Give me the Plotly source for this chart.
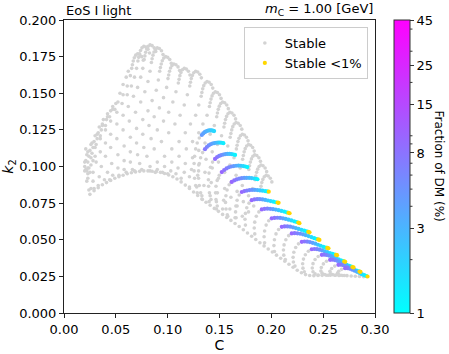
import numpy as np
import plotly.graph_objects as go

# ---------------- data ----------------
# gray "Stable" configurations: heads of the upper hooks (C, k2)
hook_heads = [
    (0.0765,0.1725),(0.075,0.175),(0.073,0.1765),(0.071,0.177),(0.0692,0.176),(0.0678,0.1742),(0.0668,0.172),(0.066,0.1695),(0.0653,0.167),
    (0.0825,0.1775),(0.081,0.180),(0.079,0.1815),(0.077,0.182),(0.0752,0.181),(0.0738,0.1792),(0.0728,0.177),(0.072,0.1745),(0.0713,0.172),
    (0.0885,0.1785),(0.087,0.181),(0.085,0.1825),(0.083,0.183),(0.0812,0.182),(0.0798,0.1802),(0.0788,0.178),(0.078,0.1755),(0.0773,0.173),
    (0.0955,0.1765),(0.094,0.179),(0.092,0.1805),(0.090,0.181),(0.0882,0.180),(0.0868,0.1782),(0.0858,0.176),(0.085,0.1735),(0.0843,0.171),
    (0.1035,0.1705),(0.102,0.173),(0.100,0.1745),(0.098,0.175),(0.0962,0.174),(0.0948,0.1722),(0.0938,0.170),(0.093,0.1675),(0.0923,0.165),
    (0.1115,0.1655),(0.110,0.168),(0.108,0.1695),(0.106,0.170),(0.1042,0.169),(0.1028,0.1672),(0.1018,0.165),(0.101,0.1625),(0.1003,0.160),
    (0.1215,0.1625),(0.120,0.165),(0.118,0.1665),(0.116,0.167),(0.1142,0.166),(0.1128,0.1642),(0.1118,0.162),(0.111,0.1595),(0.1103,0.157),
    (0.1325,0.1605),(0.131,0.163),(0.129,0.1645),(0.127,0.165),(0.1252,0.164),(0.1238,0.1622),(0.1228,0.160),(0.122,0.1575),(0.1213,0.155),
    (0.1435,0.1535),(0.142,0.156),(0.140,0.1575),(0.138,0.158),(0.1362,0.157),(0.1348,0.1552),(0.1338,0.153),(0.133,0.1505),(0.1323,0.148),
    (0.1515,0.1465),(0.150,0.149),(0.148,0.1505),(0.146,0.151),(0.1442,0.150),(0.1428,0.1482),(0.1418,0.146),(0.141,0.1435),(0.1403,0.141),
    (0.1585,0.1395),(0.157,0.142),(0.155,0.1435),(0.153,0.144),(0.1512,0.143),(0.1498,0.1412),(0.1488,0.139),(0.148,0.1365),(0.1473,0.134),
    (0.1655,0.1325),(0.164,0.135),(0.162,0.1365),(0.160,0.137),(0.1582,0.136),(0.1568,0.1342),(0.1558,0.132),(0.155,0.1295),(0.1543,0.127),
    (0.1715,0.1255),(0.170,0.128),(0.168,0.1295),(0.166,0.130),(0.1642,0.129),(0.1628,0.1272),(0.1618,0.125),(0.161,0.1225),(0.1603,0.120),
    (0.1775,0.1175),(0.176,0.120),(0.174,0.1215),(0.172,0.122),(0.1702,0.121),(0.1688,0.1192),(0.1678,0.117),(0.167,0.1145),(0.1663,0.112),
    (0.1835,0.1105),(0.182,0.113),(0.180,0.1145),(0.178,0.115),(0.1762,0.114),(0.1748,0.1122),(0.1738,0.110),(0.173,0.1075),(0.1723,0.105),
    (0.1895,0.1035),(0.188,0.106),(0.186,0.1075),(0.184,0.108),(0.1822,0.107),(0.1808,0.1052),(0.1798,0.103),(0.179,0.1005),(0.1783,0.098),
    (0.1955,0.0965),(0.194,0.099),(0.192,0.1005),(0.190,0.101),(0.1882,0.100),(0.1868,0.0982),(0.1858,0.096),(0.185,0.0935),(0.1843,0.091),
    (0.2005,0.0895),(0.199,0.092),(0.197,0.0935),(0.195,0.094),(0.1932,0.093),(0.1918,0.0912),(0.1908,0.089),(0.190,0.0865),(0.1893,0.084),
]

# gray tails of the upper hooks, running down-left
hook_tails = [
    (0.064,0.162),(0.061,0.155),(0.057,0.149),(0.052,0.144),(0.047,0.139),(0.042,0.134),(0.037,0.128),(0.032,0.122),(0.027,0.116),(0.023,0.110),(0.020,0.103),(0.020,0.097),(0.022,0.090),(0.024,0.084),
    (0.070,0.167),(0.068,0.161),(0.065,0.155),(0.061,0.149),(0.056,0.143),(0.051,0.137),(0.045,0.131),(0.040,0.125),(0.035,0.119),(0.030,0.113),(0.026,0.106),(0.023,0.099),(0.023,0.092),(0.026,0.085),
    (0.076,0.167),(0.074,0.161),(0.071,0.154),(0.067,0.148),(0.062,0.141),(0.057,0.135),(0.051,0.129),(0.045,0.122),(0.040,0.116),(0.035,0.110),(0.031,0.103),(0.028,0.096),(0.028,0.090),(0.029,0.085),
    (0.083,0.165),(0.081,0.158),(0.078,0.151),(0.074,0.144),(0.069,0.137),(0.063,0.131),(0.057,0.125),(0.051,0.119),(0.045,0.113),(0.040,0.107),(0.036,0.100),(0.034,0.093),(0.033,0.087),
    (0.091,0.159),(0.089,0.152),(0.085,0.145),(0.081,0.138),(0.076,0.132),(0.070,0.126),(0.064,0.120),(0.058,0.114),(0.052,0.108),(0.046,0.102),(0.042,0.096),(0.039,0.091),
    (0.099,0.154),(0.096,0.147),(0.092,0.140),(0.087,0.134),(0.082,0.128),(0.076,0.122),(0.070,0.116),(0.064,0.110),(0.058,0.104),(0.052,0.099),(0.047,0.094),(0.044,0.091),
    (0.108,0.151),(0.105,0.144),(0.101,0.137),(0.096,0.131),(0.090,0.125),(0.084,0.119),(0.077,0.113),(0.071,0.108),(0.064,0.103),(0.058,0.098),(0.053,0.094),
    (0.119,0.149),(0.116,0.142),(0.112,0.135),(0.107,0.129),(0.101,0.123),(0.094,0.117),(0.087,0.112),(0.080,0.107),(0.073,0.102),(0.066,0.098),(0.060,0.096),
    (0.130,0.142),(0.127,0.135),(0.122,0.129),(0.117,0.123),(0.111,0.117),(0.104,0.112),(0.097,0.107),(0.090,0.103),(0.083,0.100),(0.075,0.098),(0.068,0.097),
    (0.138,0.135),(0.134,0.129),(0.130,0.123),(0.124,0.117),(0.118,0.112),(0.111,0.107),(0.104,0.103),(0.097,0.100),(0.090,0.098),(0.083,0.097),
    (0.145,0.128),(0.141,0.122),(0.136,0.116),(0.130,0.111),(0.124,0.106),(0.117,0.102),(0.110,0.099),(0.103,0.097),(0.095,0.096),(0.088,0.096),
    (0.152,0.121),(0.148,0.115),(0.143,0.110),(0.137,0.105),(0.130,0.101),(0.123,0.098),(0.116,0.096),(0.108,0.095),(0.100,0.095),
    (0.158,0.114),(0.154,0.108),(0.149,0.103),(0.143,0.099),(0.136,0.096),(0.129,0.094),(0.121,0.093),(0.113,0.092),
    (0.164,0.106),(0.160,0.101),(0.155,0.096),(0.149,0.092),(0.142,0.089),(0.135,0.087),(0.128,0.086),(0.121,0.086),
    (0.170,0.099),(0.166,0.094),(0.161,0.089),(0.155,0.085),(0.148,0.082),(0.141,0.080),(0.133,0.080),
    (0.176,0.092),(0.172,0.087),(0.167,0.083),(0.161,0.079),(0.154,0.077),(0.147,0.076),(0.140,0.076),
    (0.182,0.085),(0.178,0.080),(0.173,0.076),(0.167,0.073),(0.160,0.071),(0.153,0.071),(0.147,0.071),
    (0.187,0.078),(0.183,0.073),(0.178,0.069),(0.172,0.066),(0.165,0.065),(0.158,0.066),
]

# gray tails below the coloured arcs
arc_tails = [
    (0.1305,0.1195),(0.1285,0.116),(0.127,0.112),(0.126,0.107),(0.1255,0.102),(0.1255,0.097),(0.126,0.092),(0.127,0.087),(0.1285,0.082),
    (0.1337,0.1095),(0.1318,0.106),(0.1305,0.102),(0.1298,0.097),(0.1298,0.092),(0.1305,0.087),(0.1318,0.082),(0.1335,0.0775),
    (0.1433,0.103),(0.1413,0.0995),(0.1399,0.0955),(0.1393,0.091),(0.1395,0.0865),(0.1403,0.082),(0.1418,0.0775),
    (0.1498,0.094),(0.1478,0.0905),(0.1466,0.0865),(0.1462,0.082),(0.1466,0.0775),(0.1478,0.073),
    (0.1593,0.0875),(0.1573,0.084),(0.1562,0.080),(0.1558,0.0755),(0.1563,0.071),(0.1575,0.067),
    (0.169,0.0805),(0.167,0.077),(0.1658,0.073),(0.1655,0.069),(0.166,0.065),
    (0.1785,0.075),(0.1763,0.0718),(0.175,0.068),(0.1746,0.064),(0.175,0.060),
    (0.188,0.069),(0.1855,0.066),(0.184,0.062),(0.1835,0.058),(0.184,0.054),
    (0.1975,0.063),(0.195,0.060),(0.1935,0.056),(0.193,0.052),(0.1935,0.048),
    (0.207,0.057),(0.2045,0.054),(0.203,0.050),(0.2025,0.046),(0.203,0.042),
    (0.2167,0.0528),(0.214,0.050),(0.2123,0.0465),(0.2117,0.043),(0.212,0.0395),(0.2135,0.0365),
    (0.2262,0.0472),(0.2235,0.0447),(0.2217,0.0415),(0.221,0.038),(0.2213,0.0348),(0.2228,0.032),
    (0.2357,0.0422),(0.2328,0.0398),(0.231,0.0368),(0.2302,0.0336),(0.2305,0.0306),(0.2318,0.0282),
    (0.2452,0.0386),(0.2422,0.0365),(0.2402,0.0337),(0.2395,0.0307),(0.2402,0.0282),(0.2422,0.0267),(0.2452,0.0259),
    (0.2532,0.0353),(0.2502,0.0335),(0.2482,0.031),(0.2478,0.0287),(0.249,0.0272),(0.2515,0.0263),(0.2548,0.0258),
    (0.2612,0.032),(0.2582,0.0304),(0.2565,0.0285),(0.257,0.0270),(0.259,0.0262),(0.262,0.0258),(0.2655,0.0256),
    (0.2678,0.0298),(0.265,0.0285),(0.2638,0.0272),(0.2648,0.0263),(0.2672,0.0258),(0.2705,0.0256),
]

# lower edge of the stable region and its flat bottom
lower_edge = [
    (0.025,0.081),(0.029,0.0835),(0.033,0.0855),(0.037,0.0875),(0.041,0.089),(0.045,0.0905),(0.049,0.092),(0.053,0.093),
    (0.057,0.094),(0.061,0.095),(0.065,0.0957),(0.069,0.0963),(0.073,0.0967),(0.077,0.097),(0.081,0.097),(0.085,0.0968),
    (0.089,0.0965),(0.093,0.096),(0.097,0.0952),(0.101,0.0942),(0.105,0.093),(0.109,0.0915),(0.113,0.0895),(0.117,0.0873),
    (0.121,0.085),(0.125,0.0826),(0.129,0.0802),(0.133,0.0778),(0.137,0.0756),(0.141,0.0735),(0.145,0.0714),(0.149,0.0694),
    (0.153,0.0673),(0.157,0.0652),(0.161,0.0632),(0.165,0.0611),(0.169,0.059),(0.173,0.0568),(0.177,0.0546),(0.181,0.0524),
    (0.185,0.0502),(0.189,0.048),(0.193,0.0458),(0.197,0.0437),(0.201,0.0416),(0.205,0.0395),(0.209,0.0374),(0.213,0.0353),
    (0.217,0.0333),(0.221,0.0312),(0.225,0.0292),(0.229,0.0275),(0.233,0.0262),(0.237,0.0256),(0.241,0.0255),(0.245,0.0256),
    (0.249,0.0257),(0.253,0.0258),(0.257,0.0258),(0.261,0.0258),(0.265,0.0257),(0.269,0.0256),(0.273,0.0255),(0.277,0.0253),
    (0.281,0.0251),(0.285,0.0249),(0.289,0.0247),
]

# dense band at low compactness
core_band = [
    (0.020,0.100),(0.021,0.104),(0.022,0.108),(0.021,0.112),(0.023,0.103),(0.024,0.107),(0.025,0.111),(0.026,0.115),
    (0.027,0.109),(0.028,0.113),(0.029,0.117),(0.030,0.121),(0.031,0.115),(0.032,0.119),(0.033,0.123),(0.034,0.127),
    (0.035,0.121),(0.036,0.125),(0.037,0.129),(0.038,0.132),(0.040,0.128),(0.041,0.132),(0.042,0.136),(0.044,0.134),
    (0.045,0.138),(0.047,0.141),(0.049,0.139),(0.050,0.143),(0.022,0.097),(0.024,0.099),(0.026,0.101),(0.028,0.104),
    (0.030,0.107),(0.023,0.095),(0.025,0.096),(0.021,0.098),(0.054,0.150),(0.057,0.156),(0.060,0.161),(0.062,0.165),
]

# coloured arcs: (C, k2, fraction of DM in %)
dm_arcs = [
    (0.1329,0.1215,4.5),(0.1343,0.1226,4.1),(0.1357,0.1234,3.7),(0.1371,0.124,3.4),(0.1385,0.1244,3.1),(0.1399,0.1246,2.8),(0.1413,0.1247,2.5),(0.1427,0.1246,2.2),(0.1440,0.1244,2.0),(0.1448,0.1242,1.8),
    (0.136,0.1118,7.5),(0.1378,0.1133,6.5),(0.1396,0.1144,5.6),(0.1414,0.1152,4.8),(0.1432,0.1157,4.1),(0.145,0.1160,3.5),(0.1468,0.1162,3.0),(0.1486,0.1163,2.5),(0.1504,0.1163,2.0),(0.152,0.1162,1.6),(0.1537,0.1159,1.3),
    (0.1457,0.1052,9.0),(0.1477,0.1064,7.8),(0.1497,0.1072,6.7),(0.1517,0.1078,5.7),(0.1537,0.1082,4.8),(0.1557,0.1085,4.0),(0.1577,0.1086,3.3),(0.1597,0.1086,2.6),(0.1617,0.1085,2.0),(0.1635,0.1082,1.5),(0.165,0.1079,1.2),
    (0.1522,0.0962,9.5),(0.1545,0.0976,8.3),(0.1568,0.0987,7.2),(0.1591,0.0995,6.2),(0.1614,0.1000,5.3),(0.1637,0.1003,4.5),(0.166,0.1005,3.7),(0.1683,0.1006,3.0),(0.1706,0.1005,2.4),(0.1729,0.1003,1.9),(0.175,0.1000,1.5),(0.1769,0.0996,1.15),
    (0.1618,0.0895,9.5),(0.1642,0.0905,8.3),(0.1666,0.0912,7.2),(0.169,0.0917,6.2),(0.1714,0.0920,5.3),(0.1738,0.0922,4.5),(0.1762,0.0923,3.7),(0.1786,0.0922,3.0),(0.181,0.0921,2.4),(0.1834,0.0918,1.9),(0.1852,0.0916,1.5),(0.1866,0.0913,1.15),
    (0.1715,0.0826,9.5),(0.174,0.0832,8.2),(0.1765,0.0836,7.0),(0.179,0.0839,5.9),(0.1815,0.0840,4.9),(0.184,0.0840,4.0),(0.1865,0.0839,3.2),(0.189,0.0837,2.5),(0.1915,0.0835,1.9),(0.194,0.0832,1.4),(0.196,0.0830,1.1),
    (0.1811,0.0770,9.5),(0.1837,0.0775,8.0),(0.1863,0.0777,6.6),(0.1889,0.0777,5.3),(0.1915,0.0775,4.2),(0.1941,0.0772,3.2),(0.1967,0.0768,2.4),(0.1993,0.0764,1.8),(0.2019,0.0760,1.35),(0.2043,0.0756,1.05),
    (0.1908,0.0707,9.5),(0.1935,0.0711,8.0),(0.1962,0.0712,6.6),(0.1989,0.0711,5.3),(0.2016,0.0709,4.2),(0.2043,0.0706,3.2),(0.207,0.0702,2.4),(0.2097,0.0697,1.8),(0.2124,0.0692,1.35),(0.2148,0.0687,1.05),
    (0.2004,0.0646,9.5),(0.2031,0.0649,8.0),(0.2058,0.0650,6.6),(0.2085,0.0649,5.3),(0.2112,0.0646,4.2),(0.2139,0.0642,3.2),(0.2166,0.0637,2.4),(0.2193,0.0632,1.8),(0.222,0.0626,1.35),(0.2243,0.0621,1.05),
    (0.2101,0.0588,9.5),(0.2128,0.0591,8.0),(0.2155,0.0591,6.6),(0.2182,0.0589,5.3),(0.2209,0.0585,4.2),(0.2236,0.0580,3.2),(0.2263,0.0574,2.4),(0.229,0.0568,1.8),(0.2317,0.0562,1.35),(0.234,0.0557,1.05),
    (0.2197,0.0543,9.5),(0.2224,0.0545,8.0),(0.2251,0.0544,6.6),(0.2278,0.0541,5.3),(0.2305,0.0537,4.2),(0.2332,0.0531,3.2),(0.2359,0.0525,2.4),(0.2386,0.0518,1.8),(0.2413,0.0511,1.35),(0.2437,0.0505,1.05),
    (0.2294,0.0486,9.5),(0.232,0.0488,8.0),(0.2346,0.0487,6.6),(0.2372,0.0484,5.3),(0.2398,0.0479,4.2),(0.2424,0.0473,3.2),(0.245,0.0466,2.4),(0.2476,0.0459,1.8),(0.2502,0.0452,1.35),(0.2526,0.0446,1.05),
    (0.239,0.0435,9.5),(0.2415,0.0437,8.0),(0.244,0.0436,6.6),(0.2465,0.0432,5.3),(0.249,0.0427,4.2),(0.2515,0.0421,3.2),(0.254,0.0415,2.4),(0.2565,0.0409,1.8),(0.259,0.0403,1.35),(0.2612,0.0399,1.05),
    (0.2487,0.0397,9.5),(0.251,0.0398,8.0),(0.2533,0.0396,6.6),(0.2556,0.0392,5.3),(0.2579,0.0386,4.2),(0.2602,0.0380,3.2),(0.2625,0.0373,2.4),(0.2648,0.0366,1.8),(0.2671,0.0359,1.35),(0.2692,0.0354,1.05),
    (0.2567,0.0363,9.5),(0.259,0.0364,8.0),(0.2613,0.0361,6.6),(0.2636,0.0356,5.3),(0.2659,0.0350,4.2),(0.2682,0.0343,3.2),(0.2705,0.0336,2.4),(0.2728,0.0329,1.8),(0.2751,0.0322,1.35),(0.2772,0.0316,1.05),
    (0.2647,0.0329,9.5),(0.2669,0.0330,8.0),(0.2691,0.0327,6.6),(0.2713,0.0322,5.3),(0.2735,0.0316,4.2),(0.2757,0.0309,3.2),(0.2779,0.0302,2.4),(0.2801,0.0295,1.8),(0.2823,0.0289,1.35),(0.2843,0.0285,1.05),
    (0.2712,0.0306,9.5),(0.2735,0.0306,8.0),(0.2758,0.0302,6.6),(0.2781,0.0296,5.3),(0.2804,0.0289,4.2),(0.2827,0.0281,3.2),(0.285,0.0273,2.4),(0.2873,0.0265,1.8),(0.2896,0.0258,1.35),(0.2917,0.0252,1.05),
]

# "Stable <1%" points at the arc tips
below_1pct = [
    (0.1975,0.0828),(0.2060,0.0754),(0.2070,0.0752),(0.2165,0.0684),(0.2176,0.0681),
    (0.2260,0.0617),(0.2271,0.0613),(0.2356,0.0554),(0.2368,0.0551),(0.2452,0.0502),(0.2464,0.0499),
    (0.2540,0.0444),(0.2551,0.0442),(0.2624,0.0397),(0.2634,0.0395),(0.2703,0.0352),(0.2713,0.0349),
    (0.2782,0.0314),(0.2793,0.0311),(0.2851,0.0283),(0.2860,0.0281),(0.2928,0.0249),
]

frac_ticks = [1, 3, 8, 15, 25, 45]
frac_minor_ticks = [2, 4, 5, 6, 7, 9, 10, 20, 30, 40]
x_ticks = [0.00, 0.05, 0.10, 0.15, 0.20, 0.25, 0.30]
y_ticks = [0.000, 0.025, 0.050, 0.075, 0.100, 0.125, 0.150, 0.175, 0.200]

# ---------------- figure ----------------
FONT = "DejaVu Sans"
FRAC_MAX = 45
gray_pts = hook_heads + hook_tails + arc_tails + lower_edge + core_band
gC = [p[0] for p in gray_pts]
gK = [p[1] for p in gray_pts]

fig = go.Figure()
fig.add_trace(go.Scatter(
    x=gC, y=gK, mode="markers", name="Stable",
    marker=dict(size=3.6, color="#d3d3d3", line=dict(width=0)),
))
CB_X = 1.061          # left edge of the colour bar (paper units)
CB_W = 16             # colour bar thickness (px)
fig.add_trace(go.Scatter(
    x=[p[0] for p in dm_arcs], y=[p[1] for p in dm_arcs], mode="markers",
    showlegend=False,
    marker=dict(
        size=4.2, color=np.log10([p[2] for p in dm_arcs]),
        colorscale=[[0, "#00ffff"], [1, "#ff00ff"]],
        cmin=0, cmax=np.log10(FRAC_MAX), line=dict(width=0),
        colorbar=dict(
            x=CB_X, xanchor="left", xref="paper", xpad=0, ypad=0,
            y=0.5, yanchor="middle", len=1.0, lenmode="fraction",
            thickness=CB_W, outlinewidth=1, outlinecolor="#333",
            tickvals=np.log10(frac_ticks), ticktext=[str(v) for v in frac_ticks],
            ticks="outside", ticklen=4, tickcolor="#333",
            tickfont=dict(family=FONT, size=13, color="black"),
        ),
    ),
))
fig.add_trace(go.Scatter(
    x=[p[0] for p in below_1pct], y=[p[1] for p in below_1pct], mode="markers",
    name="Stable <1%", marker=dict(size=4.2, color="#ffd700", line=dict(width=0)),
))

axis_common = dict(
    showline=True, linecolor="#222", linewidth=1, mirror=True, automargin=False,
    ticks="outside", ticklen=4, tickcolor="#222", showgrid=False, zeroline=False,
    tickfont=dict(family=FONT, size=13, color="black"),
)
fig.update_xaxes(range=[0, 0.30], tickvals=x_ticks, ticktext=[f"{v:.2f}" for v in x_ticks],
                 title=dict(text="C", font=dict(family=FONT, size=14, color="black"), standoff=2),
                 **axis_common)
fig.update_yaxes(range=[0, 0.20], tickvals=y_ticks, ticktext=[f"{v:.3f}" for v in y_ticks],
                 title=dict(text="<i>k</i><sub>2</sub>", font=dict(family=FONT, size=14, color="black"), standoff=4),
                 **axis_common)

# minor ticks on the log colour bar
plot_w = 449 - 64 - 74
cb_right = CB_X + CB_W / plot_w
minor_shapes = [
    dict(type="line", xref="paper", yref="paper",
         x0=cb_right, x1=cb_right + 2.5 / plot_w,
         y0=np.log10(v) / np.log10(FRAC_MAX), y1=np.log10(v) / np.log10(FRAC_MAX),
         line=dict(color="#333", width=1))
    for v in frac_minor_ticks
]

fig.update_layout(
    width=449, height=354,
    margin=dict(l=64, r=74, t=20, b=41, autoexpand=False),
    paper_bgcolor="white", plot_bgcolor="white",
    font=dict(family=FONT, size=13, color="black"),
    shapes=minor_shapes,
    legend=dict(x=0.977, y=0.976, xanchor="right", yanchor="top",
                bgcolor="rgba(255,255,255,0.85)", bordercolor="#cccccc", borderwidth=1,
                font=dict(family=FONT, size=13), tracegroupgap=2),
    annotations=[
        dict(text="EoS I light", x=0, y=1, xref="paper", yref="paper", xanchor="left", yanchor="bottom",
             yshift=0, showarrow=False, font=dict(family=FONT, size=13)),
        dict(text="<i>m</i><sub>C</sub> = 1.00 [GeV]", x=1, y=1, xref="paper", yref="paper",
             xanchor="right", yanchor="bottom", showarrow=False, font=dict(family=FONT, size=13)),
        dict(text="Fraction of DM (%)", x=1.209, y=0.5, xref="paper", yref="paper", textangle=90,
             xanchor="center", yanchor="middle", showarrow=False, font=dict(family=FONT, size=12)),
    ],
)

# remove the browser's default 8 px page margin so the figure fills the window exactly
fig.write_html("out.html", config={"displayModeBar": False},
               post_script="document.body.style.margin='0px';document.body.style.overflow='hidden';")
